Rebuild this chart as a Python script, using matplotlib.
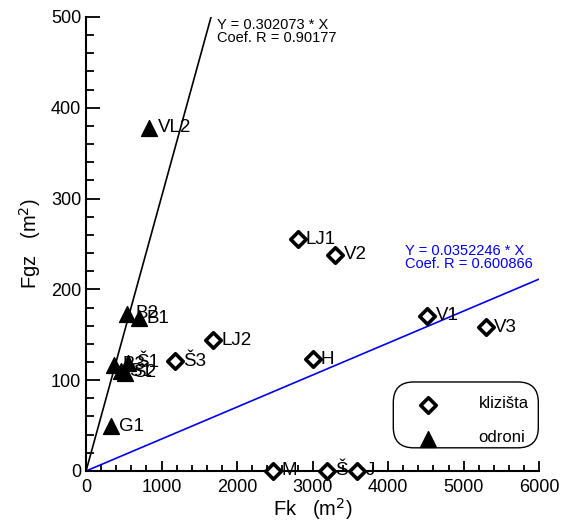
import matplotlib
matplotlib.use('Agg')
import matplotlib.pyplot as plt
from matplotlib.patches import FancyBboxPatch
from matplotlib.ticker import MultipleLocator
import numpy as np

plt.rcParams['font.family'] = ['Liberation Sans', 'DejaVu Sans']

# ── Data ────────────────────────────────────────────────
slide_names = ["LJ1", "V2", "V1", "V3", "H", "LJ2", "Š3", "M", "Š", "J"]
slide_fk = [2800, 3300, 4520, 5290, 3000, 1680, 1180, 2480, 3190, 3590]
slide_fgz = [255, 238, 171, 158, 123, 144, 121, 0, 0, 0]

rock_names = ["VL2", "B2", "B1", "B3", "Š1", "S1", "S2", "G1"]
rock_fk = [835, 540, 695, 370, 555, 465, 515, 330]
rock_fgz = [378, 173, 168, 117, 119, 110, 108, 49]

k_rock, r_rock = 0.302073, 0.90177
k_slide, r_slide = 0.0352246, 0.600866

fig = plt.figure(figsize=(5.7, 5.28), dpi=100)
ax = fig.add_axes([0.151, 0.108, 0.795, 0.860])
ax.set_xlim(0, 6000)
ax.set_ylim(0, 500)

# regression lines
xr = np.array([0, 500 / k_rock])
ax.plot(xr, k_rock * xr, color='black', lw=1.2, zorder=2)
xs = np.array([0, 6000])
ax.plot(xs, k_slide * xs, color='#0000ee', lw=1.2, zorder=2)

ax.text(1740, 499, f"Y = {k_rock} * X\nCoef. R = {r_rock}", fontsize=10.5,
        va='top', ha='left', linespacing=0.95)
ax.text(4220, 250, f"Y = {k_slide} * X\nCoef. R = {r_slide}", fontsize=10.5,
        va='top', ha='left', color='#0000ee', linespacing=0.95)

ax.scatter(slide_fk, slide_fgz, marker='D', s=62, facecolor='white',
           edgecolor='black', linewidth=2.6, zorder=4, clip_on=False)
ax.scatter(rock_fk, rock_fgz, marker='^', s=130, facecolor='black',
           edgecolor='black', zorder=4, clip_on=False)

for n, x, y in zip(slide_names + rock_names, slide_fk + rock_fk,
                   slide_fgz + rock_fgz):
    ax.annotate(n, (x, y), xytext=(6, 0), textcoords='offset points',
                fontsize=13.5, va='center', ha='left', zorder=5,
                annotation_clip=False)

# axes styling
for s in ['top', 'right']:
    ax.spines[s].set_visible(False)
for s in ['left', 'bottom']:
    ax.spines[s].set_linewidth(1.5)
ax.xaxis.set_major_locator(MultipleLocator(1000))
ax.xaxis.set_minor_locator(MultipleLocator(200))
ax.yaxis.set_major_locator(MultipleLocator(100))
ax.yaxis.set_minor_locator(MultipleLocator(20))
ax.tick_params(which='both', direction='in', width=1.3, labelsize=13)
ax.tick_params(axis='y', which='major', length=10)
ax.tick_params(axis='y', which='minor', length=6)
ax.tick_params(axis='x', which='major', length=7)
ax.tick_params(axis='x', which='minor', length=4.5)
ax.tick_params(axis='x', pad=6)
ax.set_xlabel("Fk   (m$^2$)", fontsize=14.5, labelpad=0)
ax.set_ylabel("Fgz   (m$^2$)", fontsize=14.5, labelpad=6)

# legend box
box = FancyBboxPatch((0.681, 0.054), 0.314, 0.139, transform=ax.transAxes,
                     boxstyle="round,pad=0.003,rounding_size=0.045",
                     facecolor='white', edgecolor='black', lw=1.0,
                     zorder=6)
ax.add_patch(box)
ax.scatter([0.755], [0.145], marker='D', s=62, facecolor='white',
           edgecolor='black', linewidth=2.6, transform=ax.transAxes,
           zorder=7, clip_on=False)
ax.scatter([0.755], [0.070], marker='^', s=130, facecolor='black',
           transform=ax.transAxes, zorder=7, clip_on=False)
ax.text(0.866, 0.148, "klizišta", transform=ax.transAxes, fontsize=12,
        va='center', ha='left', zorder=7)
ax.text(0.866, 0.073, "odroni", transform=ax.transAxes, fontsize=12,
        va='center', ha='left', zorder=7)

fig.savefig('out.png', dpi=100, facecolor='white')
